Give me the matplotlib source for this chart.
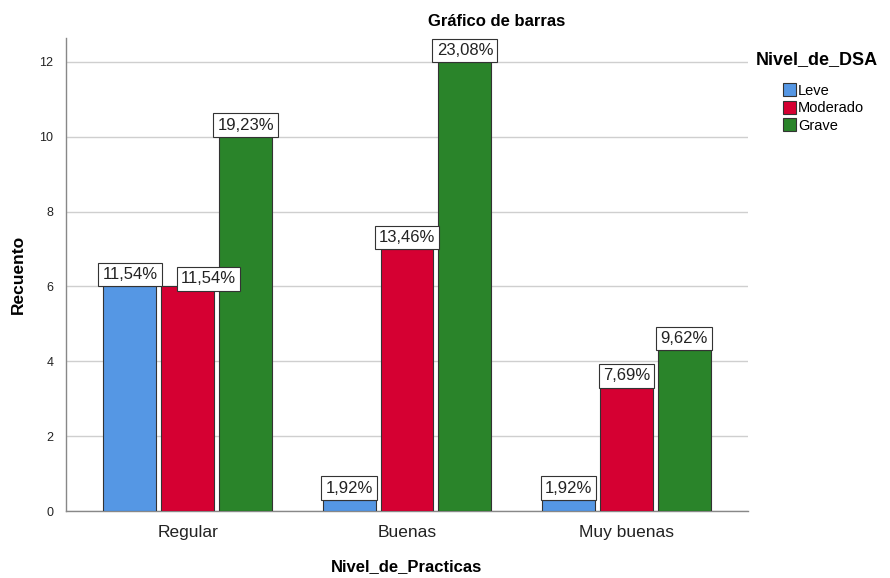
import matplotlib
matplotlib.use("Agg")
import matplotlib.pyplot as plt
import numpy as np
from matplotlib.patches import Patch

plt.rcParams['font.family'] = ['Liberation Sans', 'DejaVu Sans']

categories = ["Regular", "Buenas", "Muy buenas"]
series = ["Leve", "Moderado", "Grave"]
counts = {
    "Leve": [6, 0.3, 0.3],
    "Moderado": [6, 7, 3.3],
    "Grave": [10, 12, 4.3],
}
pct_labels = {
    "Leve": ["11,54%", "1,92%", "1,92%"],
    "Moderado": ["11,54%", "13,46%", "7,69%"],
    "Grave": ["19,23%", "23,08%", "9,62%"],
}
yticks = [0, 2, 4, 6, 8, 10, 12]

colors = {"Leve": "#5597E4", "Moderado": "#D50032", "Grave": "#2A842A"}

fig = plt.figure(figsize=(8.9, 5.78), dpi=100)
ax = fig.add_axes([66 / 890, 1 - 511 / 578, (748 - 66) / 890, (511 - 38) / 578])

x = np.arange(len(categories))
step = 0.264
width = 0.241
label_shift = {("Moderado", 0): (15, -3)}

for i, s in enumerate(series):
    xs = x + (i - 1) * step
    bars = ax.bar(xs, counts[s], width=width, color=colors[s],
                  edgecolor="#333333", linewidth=0.8, zorder=3)
    for j, b in enumerate(bars):
        dx, dy = label_shift.get((s, j), (0, 0))
        ax.annotate(pct_labels[s][j],
                    xy=(b.get_x() + b.get_width() / 2, b.get_height()),
                    xytext=(dx, 3.0 + dy), textcoords="offset points",
                    ha="center", va="bottom", fontsize=12, color="#222222",
                    bbox=dict(boxstyle="square,pad=0.25", fc="white",
                              ec="#333333", lw=0.8),
                    zorder=5)

ax.set_xlim(-0.555, 2.555)
ax.set_ylim(0, 12.64)
ax.set_yticks(yticks)
ax.set_yticklabels([str(v) for v in yticks], fontsize=9, color="#222222")
ax.set_xticks(x)
ax.set_xticklabels(categories, fontsize=12.5, color="#222222")
ax.tick_params(axis="y", length=0, pad=9)
ax.tick_params(axis="x", length=0, pad=10)
ax.yaxis.grid(True, color="#cfcfcf", linewidth=1.0, zorder=0)
ax.set_axisbelow(True)
for sp in ["top", "right"]:
    ax.spines[sp].set_visible(False)
for sp in ["left", "bottom"]:
    ax.spines[sp].set_color("#888888")
    ax.spines[sp].set_linewidth(1.0)

ax.set_ylabel("Recuento", fontsize=12.5, fontweight="bold", labelpad=10)
ax.set_xlabel("Nivel_de_Practicas", fontsize=12, fontweight="bold", labelpad=14)

fig.text(497 / 890, 1 - 22 / 578, "Gráfico de barras", ha="center", va="center",
         fontsize=12, fontweight="bold")

fig.text(756 / 890, 1 - 60 / 578, "Nivel_de_DSA", ha="left", va="center",
         fontsize=13, fontweight="bold")
handles = [Patch(facecolor=colors[s], edgecolor="#333333", linewidth=0.8) for s in series]
fig.legend(handles, series, loc="upper left",
           bbox_to_anchor=(776 / 890, 1 - 76 / 578), frameon=False,
           fontsize=10.5, handlelength=0.85, handleheight=1.0,
           handletextpad=0.15, labelspacing=0.2, borderpad=0)

fig.savefig("out.png", dpi=100)
